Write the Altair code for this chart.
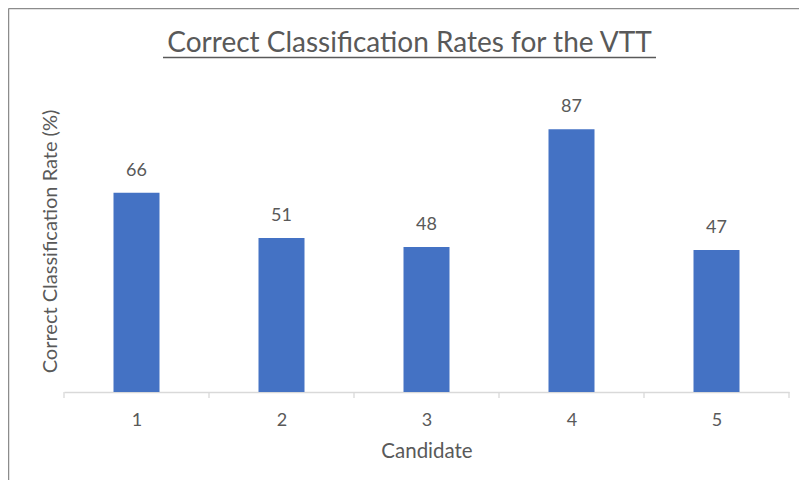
import altair as alt
import pandas as pd

candidates = [1, 2, 3, 4, 5]
rates = [66, 51, 48, 87, 47]
tick_bounds = [0.5, 1.5, 2.5, 3.5, 4.5, 5.5]
title_text = "Correct Classification Rates for the VTT"

df = pd.DataFrame({"Candidate": candidates, "Rate": rates})
tdf = pd.DataFrame({"b": tick_bounds})
ttl = pd.DataFrame({"t": [title_text]})

FONT = "Lato"
TXT = "#595959"
AX = "#d9d9d9"
W, H = 725, 302

xscale = alt.Scale(domain=[0.5, 5.5], nice=False, zero=False, padding=0)

x = alt.X(
    "Candidate:Q",
    scale=xscale,
    axis=alt.Axis(
        title="Candidate",
        values=candidates,
        format="d",
        labelAngle=0,
        labelFont=FONT,
        labelFontSize=18,
        labelColor=TXT,
        labelPadding=19,
        ticks=False,
        grid=False,
        titleFont=FONT,
        titleFontSize=20.5,
        titleFontWeight="normal",
        titleColor=TXT,
        titlePadding=12,
        domainColor=AX,
        domainWidth=1.3,
    ),
)
y = alt.Y(
    "Rate:Q",
    scale=alt.Scale(domain=[0, 100]),
    axis=alt.Axis(
        title="Correct Classification Rate (%)",
        labels=False,
        ticks=False,
        domain=False,
        grid=False,
        titleFont=FONT,
        titleFontSize=20,
        titleFontWeight="normal",
        titleColor=TXT,
        titlePadding=4,
    ),
)

base = alt.Chart(df)
bars = base.mark_bar(color="#4472C4", size=46).encode(x=x, y=y)
labels = base.mark_text(font=FONT, fontSize=18, color=TXT, dy=-13, baseline="bottom").encode(
    x=alt.X("Candidate:Q", scale=xscale), y="Rate:Q", text="Rate:Q"
)
ticks = alt.Chart(tdf).mark_rule(color=AX, strokeWidth=1.3).encode(
    x=alt.X("b:Q", scale=xscale), y=alt.value(H), y2=alt.value(H + 6)
)

title = alt.Chart(ttl).mark_text(
    font=FONT, fontSize=28, color=TXT, align="center", baseline="alphabetic"
).encode(x=alt.value(345.5), y=alt.value(-38.5), text="t:N")
underline = alt.Chart(ttl).mark_rule(color=TXT, strokeWidth=1.4).encode(
    x=alt.value(99), x2=alt.value(592), y=alt.value(-32.5)
)
border_top = alt.Chart(ttl).mark_rule(color="#8c8c8c", strokeWidth=1.5).encode(
    x=alt.value(-55.5), x2=alt.value(W + 10), y=alt.value(-81.5)
)
border_left = alt.Chart(ttl).mark_rule(color="#8c8c8c", strokeWidth=1.5).encode(
    x=alt.value(-55.5), y=alt.value(-81.5), y2=alt.value(H + 88)
)

chart = (
    alt.layer(bars, labels, ticks, title, underline, border_top, border_left)
    .properties(
        width=W,
        height=H,
        padding={"left": 56, "top": 82, "right": 10, "bottom": 88},
        autosize=alt.AutoSizeParams(type="none"),
    )
    .configure_view(stroke=None)
)

chart.save("out.html", embed_options={"renderer": "svg", "actions": False})
